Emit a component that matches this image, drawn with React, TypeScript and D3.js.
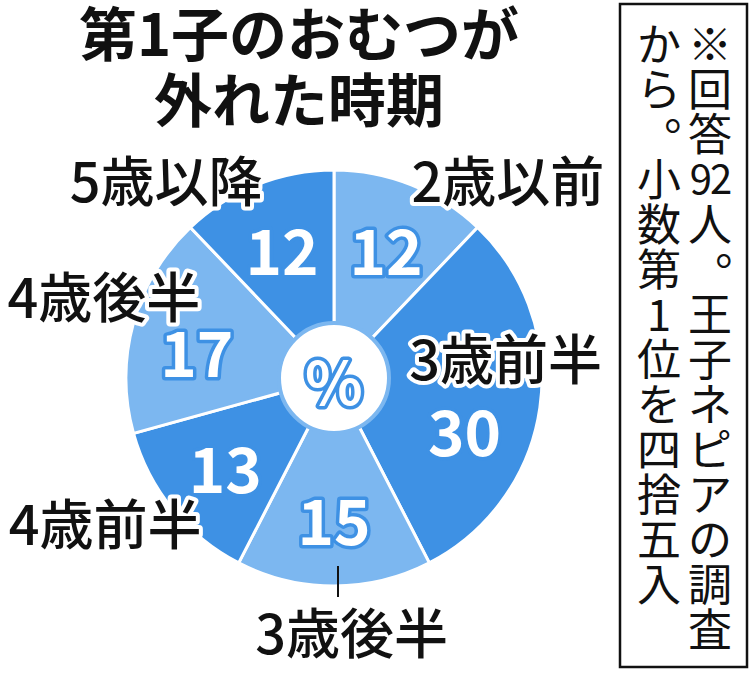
import * as d3 from 'd3'

// 第1子のおむつが外れた時期 (%), clockwise from 12 o'clock
const categories = ['2歳以前', '3歳前半', '3歳後半', '4歳前半', '4歳後半', '5歳以降']
const values = [12, 30, 15, 13, 17, 12]
const titleLines = ['第1子のおむつが', '外れた時期']
const noteColumns = [
  ['※', '回', '答', '92', '人', '。', '王', '子', 'ネ', 'ピ', 'ア', 'の', '調', '査'],
  ['か', 'ら', '。', '小', '数', '第', '1', '位', 'を', '四', '捨', '五', '入'],
]

const W = 750
const H = 675
const cx = 334
const cy = 378
const R = 208
const holeR = 55

const LIGHT = '#7cb7f0'
const DARK = '#3e91e4'
const JP = '"Noto Sans CJK JP", "Noto Sans", sans-serif'

// hand placement of the outside captions (angle in degrees, radius)
const captionSpot: Record<string, [number, number]> = {
  '2歳以前': [41, 265],
  '3歳前半': [83, 173],
  '3歳後半': [176, 253],
  '4歳前半': [238, 270],
  '4歳後半': [290, 245],
  '5歳以降': [320, 261],
}
// nudge value labels off the centroid where the caption sits on the slice
const valueNudge: Record<string, number> = { '3歳前半': 13, '4歳後半': -4 }

const rad = (deg: number) => (deg * Math.PI) / 180
const polar = (angle: number, r: number): [number, number] => [
  cx + r * Math.sin(angle),
  cy - r * Math.cos(angle),
]

export default function App() {
  const pie = d3
    .pie<number>()
    .sort(null)
    .value((d) => d)
  const arcs = pie(values)
  const arc = d3.arc<d3.PieArcDatum<number>>().innerRadius(0).outerRadius(R)

  const haloText = {
    stroke: 'white',
    strokeWidth: 8,
    strokeLinejoin: 'round' as const,
    paintOrder: 'stroke' as const,
  }

  return (
    <svg
      width={W}
      height={H}
      style={{ position: 'absolute', left: 0, top: 0, background: 'white' }}
    >
      {/* title */}
      {titleLines.map((t, i) => (
        <text
          key={t}
          x={299}
          y={56 + i * 66}
          textAnchor="middle"
          fontFamily={JP}
          fontWeight={700}
          fontSize={58}
          fill="#111"
        >
          {t}
        </text>
      ))}

      {/* slices */}
      {arcs.map((a, i) => (
        <path
          key={categories[i]}
          transform={`translate(${cx},${cy})`}
          d={arc(a) ?? ''}
          fill={i % 2 === 0 ? LIGHT : DARK}
          stroke="white"
          strokeWidth={3}
        />
      ))}

      {/* centre hole */}
      <circle cx={cx} cy={cy} r={holeR} fill="white" stroke={LIGHT} strokeWidth={4} />
      <text
        x={cx}
        y={cy}
        textAnchor="middle"
        dominantBaseline="central"
        fontFamily={JP}
        fontWeight={700}
        fontSize={60}
        fill="white"
        stroke={DARK}
        strokeWidth={7}
        strokeLinejoin="round"
        paintOrder="stroke"
      >
        %
      </text>

      {/* values */}
      {arcs.map((a, i) => {
        const mid = (a.startAngle + a.endAngle) / 2 + rad(valueNudge[categories[i]] ?? 0)
        const [x, y] = polar(mid, 140)
        return (
          <text
            key={'v' + i}
            x={x}
            y={y}
            textAnchor="middle"
            dominantBaseline="central"
            fontFamily={JP}
            fontWeight={700}
            fontSize={62}
            fill="white"
            stroke={DARK}
            strokeWidth={7}
            strokeLinejoin="round"
            paintOrder="stroke"
          >
            {values[i]}
          </text>
        )
      })}

      {/* leader for 3歳後半 */}
      {arcs
        .filter((_, i) => categories[i] === '3歳後半')
        .map((a) => {
          const mid = (a.startAngle + a.endAngle) / 2
          const [x1, y1] = polar(mid, 188)
          const [x2, y2] = polar(mid, 219)
          return (
            <line key="leader" x1={x1 + 4} y1={y1} x2={x2 + 4} y2={y2} stroke="#111" strokeWidth={2} />
          )
        })}

      {/* captions */}
      {categories.map((c) => {
        const [deg, r] = captionSpot[c]
        const [x, y] = polar(rad(deg), r)
        return (
          <text
            key={c}
            x={x}
            y={y}
            textAnchor="middle"
            dominantBaseline="central"
            fontFamily={JP}
            fontWeight={500}
            fontSize={54}
            fill="#111"
            {...haloText}
          >
            {c}
          </text>
        )
      })}

      {/* note box */}
      <rect x={620} y={4} width={127} height={663} fill="white" stroke="#111" strokeWidth={2.5} />
      {noteColumns.map((col, ci) =>
        col.map((ch, k) => {
          const fs = 44
          const x = ci === 0 ? 710 : 659
          const y = 42 + k * 45
          const isStop = ch === '。'
          return (
            <text
              key={`${ci}-${k}`}
              x={isStop ? x + fs * 0.62 : x}
              y={isStop ? y - fs * 0.47 : y}
              textAnchor="middle"
              dominantBaseline="central"
              fontFamily={JP}
              fontWeight={400}
              fontSize={ch === '92' ? 40 : fs}
              fill="#111"
              letterSpacing={ch === '92' ? -2 : 0}
            >
              {ch}
            </text>
          )
        })
      )}
    </svg>
  )
}
